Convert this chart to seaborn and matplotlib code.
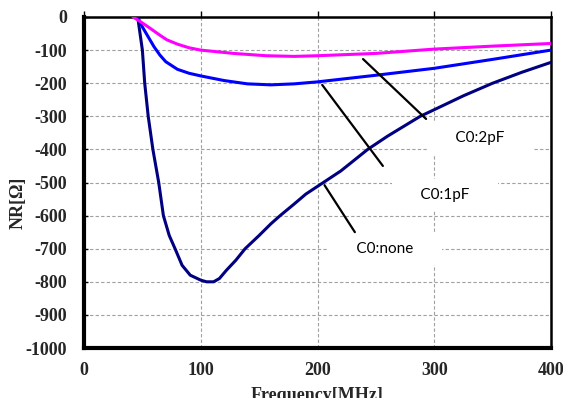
import pandas as pd
import numpy as np
import seaborn as sns
import matplotlib.pyplot as plt

# Dados (frequência em MHz, NR em ohm)
freq_none = [46, 50, 52, 55, 59, 64, 68, 73, 78, 84, 91, 100, 105, 111, 116, 122, 130, 138, 150,
             160, 168, 180, 190, 205, 220, 243, 260, 288, 300, 325, 350, 375, 400]
nr_none = [0, -100, -200, -300, -400, -500, -600, -660, -700, -750, -780, -795, -800, -800, -790,
           -765, -735, -700, -660, -625, -600, -565, -535, -500, -465, -400, -360, -300, -280,
           -238, -200, -167, -137]

freq_1pf = [46, 50, 55, 60, 65, 70, 80, 90, 100, 120, 140, 160, 180, 200, 250, 300, 350, 400]
nr_1pf = [0, -30, -60, -90, -115, -135, -158, -170, -178, -192, -202, -205, -202, -196, -176,
          -155, -128, -100]

freq_2pf = [42, 50, 57, 65, 71, 80, 90, 100, 128, 156, 180, 200, 250, 300, 350, 400]
nr_2pf = [0, -18, -35, -55, -69, -82, -93, -100, -110, -117, -119, -117, -110, -97, -88, -80]

series = ['C0:none', 'C0:1pF', 'C0:2pF']
cores = {'C0:none': '#000080', 'C0:1pF': '#0000FF', 'C0:2pF': '#FF00FF'}

df = pd.concat([
    pd.DataFrame({'f': freq_none, 'nr': nr_none, 's': 'C0:none'}),
    pd.DataFrame({'f': freq_1pf, 'nr': nr_1pf, 's': 'C0:1pF'}),
    pd.DataFrame({'f': freq_2pf, 'nr': nr_2pf, 's': 'C0:2pF'}),
])

sns.set_theme(style='white')
plt.rcParams['font.family'] = ['Liberation Serif', 'DejaVu Serif']
plt.rcParams['font.weight'] = 'bold'
plt.rcParams['axes.unicode_minus'] = False

fig = plt.figure(figsize=(5.63, 3.98), dpi=100)
ax = fig.add_axes([0.1492, 0.1256, 0.8295, 0.8317])

sns.lineplot(data=df, x='f', y='nr', hue='s', palette=cores, hue_order=series,
             linewidth=2.2, legend=False, sort=False, ax=ax, zorder=3)

ax.set_xlim(0, 400)
ax.set_ylim(-1000, 0)
ax.set_xticks(np.arange(0, 401, 100))
ax.set_yticks(np.arange(-1000, 1, 100))
ax.grid(True, color='#A0A0A0', linestyle=(0, (3, 2)), linewidth=0.8)
ax.set_axisbelow(True)

for lado, lw in [('left', 3), ('bottom', 3), ('top', 1.8), ('right', 1.8)]:
    ax.spines[lado].set_visible(True)
    ax.spines[lado].set_color('black')
    ax.spines[lado].set_linewidth(lw)

ax.tick_params(axis='both', labelsize=13)
ax.tick_params(axis='x', pad=6)
# marcas no topo (eixo horizontal cruza em y=0)
ax.tick_params(axis='x', top=True, bottom=False, direction='out', length=4, width=1, color='black')
ax.tick_params(axis='y', left=True, direction='in', length=3, width=1, color='black', pad=12)

ax.set_xlabel('Frequency[MHz]', fontsize=13, fontweight='bold')
ax.set_ylabel('NR[Ω]', fontsize=13, fontweight='bold')
ax.xaxis.set_label_coords(0.5, -0.118)
ax.yaxis.set_label_coords(-0.122, 0.44)

# Rótulos com linhas indicadoras
rotulos = [
    ('C0:2pF', (239, -127), (293, -308), (339, -366)),
    ('C0:1pF', (204, -205), (256, -450), (309, -538)),
    ('C0:none', (206, -508), (232, -650), (258, -701)),
]
for txt, p0, p1, pt in rotulos:
    ax.plot([p0[0], p1[0]], [p0[1], p1[1]], color='black', linewidth=1.6, zorder=4)
    ax.text(pt[0], pt[1], '     ' + txt + '     ', ha='center', va='center', fontsize=11,
            family=['Lato', 'DejaVu Sans'], fontweight='normal', color='black', zorder=1.5,
            bbox=dict(boxstyle='square,pad=0.6', fc='white', ec='none'))

plt.savefig('out.png', dpi=100)
